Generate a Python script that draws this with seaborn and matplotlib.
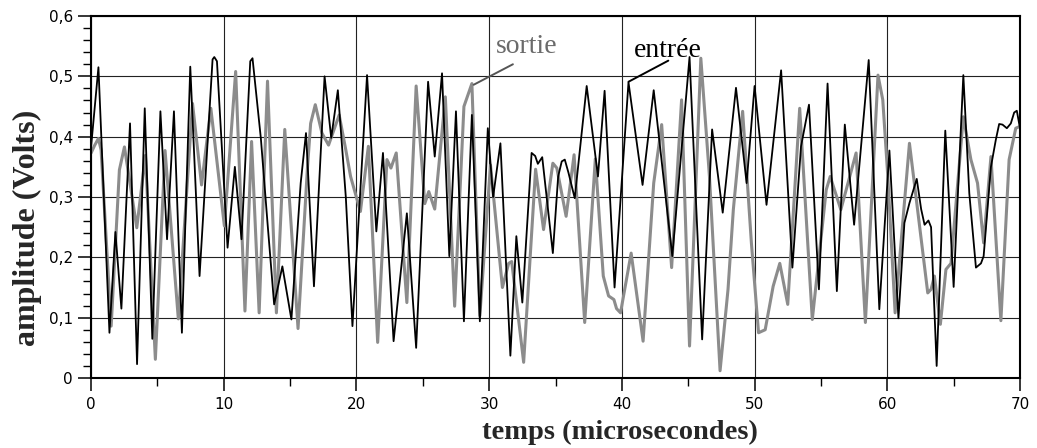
import numpy as np
import pandas as pd
import matplotlib
matplotlib.use("Agg")
import matplotlib.pyplot as plt
from matplotlib.ticker import MultipleLocator, FuncFormatter
import seaborn as sns

# ---- data ----
entree_t = [0.01, 0.56, 1.39, 1.84, 2.29, 2.94, 3.47, 4.05, 4.62, 5.23, 5.73, 6.25, 6.85,
            7.48, 8.18, 9.16, 9.29, 9.49, 10.29, 10.84, 11.34, 12.0, 12.17, 12.8, 13.3,
            13.8, 14.42, 15.1, 15.8, 16.2, 16.8, 17.6, 18.1, 18.6, 19.2, 19.7, 20.8, 21.5,
            22.0, 22.8, 23.8, 24.5, 25.4, 25.9, 26.45, 27.0, 27.5, 28.1, 28.7, 29.3, 29.9,
            30.3, 30.85, 31.6, 32.05, 32.5, 33.2, 33.47, 33.67, 34.0, 34.8, 35.2, 35.47,
            35.7, 35.98, 36.45, 37.35, 38.2, 38.7, 39.45, 40.5, 41.56, 42.4, 43.8, 45.1,
            46.05, 46.8, 47.6, 48.6, 49.4, 50.0, 50.9, 52.0, 52.85, 53.5, 54.1, 54.85,
            55.5, 56.2, 56.8, 57.5, 58.6, 59.4, 60.16, 60.84, 61.29, 61.67, 62.22, 62.55,
            62.81, 63.1, 63.3, 63.72, 64.37, 65.0, 65.73, 66.18, 66.68, 67.06, 67.26,
            67.81, 68.18, 68.43, 68.68, 69.01, 69.31, 69.56, 69.76, 70.0]
entree_v = [0.384, 0.515, 0.075, 0.242, 0.115, 0.422, 0.023, 0.447, 0.065, 0.442, 0.23,
            0.442, 0.075, 0.516, 0.169, 0.528, 0.532, 0.525, 0.216, 0.35, 0.23, 0.525,
            0.53, 0.397, 0.257, 0.122, 0.185, 0.097, 0.323, 0.406, 0.152, 0.50, 0.398,
            0.477, 0.30, 0.086, 0.502, 0.243, 0.373, 0.061, 0.273, 0.05, 0.491, 0.367,
            0.505, 0.202, 0.442, 0.094, 0.436, 0.094, 0.414, 0.30, 0.389, 0.037, 0.235,
            0.125, 0.373, 0.368, 0.355, 0.366, 0.207, 0.334, 0.359, 0.362, 0.34, 0.298,
            0.484, 0.334, 0.476, 0.15, 0.49, 0.32, 0.477, 0.202, 0.532, 0.064, 0.412,
            0.274, 0.481, 0.323, 0.484, 0.287, 0.51, 0.183, 0.384, 0.453, 0.147, 0.488,
            0.144, 0.42, 0.254, 0.527, 0.114, 0.377, 0.099, 0.257, 0.29, 0.33, 0.28,
            0.254, 0.261, 0.25, 0.02, 0.41, 0.151, 0.502, 0.306, 0.183, 0.19, 0.202,
            0.35, 0.395, 0.421, 0.42, 0.414, 0.422, 0.44, 0.443, 0.414]

sortie_t = [0.01, 0.26, 0.56, 0.76, 1.52, 2.14, 2.52, 3.45, 4.1, 4.85, 5.58, 6.58, 7.65,
            8.33, 9.03, 10.05, 10.9, 11.6, 12.1, 12.67, 13.3, 13.97, 14.6, 15.6, 16.3,
            16.55, 16.9, 17.4, 17.9, 18.7, 19.2, 19.56, 20.3, 20.9, 21.6, 22.3, 22.6,
            23.0, 23.8, 24.5, 25.15, 25.45, 25.9, 26.7, 27.4, 28.1, 28.7, 29.3, 30.1,
            31.0, 31.47, 31.7, 32.6, 33.5, 34.1, 34.8, 35.1, 35.8, 36.4, 37.2, 38.0,
            38.6, 39.0, 39.4, 39.6, 39.9, 40.7, 41.6, 42.4, 43.0, 43.75, 44.5, 45.1,
            45.95, 46.6, 47.4, 48.0, 48.4, 49.1, 49.76, 50.3, 50.8, 51.4, 51.9, 52.5,
            53.4, 54.35, 55.4, 55.7, 56.5, 57.65, 58.35, 59.3, 59.66, 60.04, 60.59,
            61.67, 63.05, 63.3, 63.55, 64.0, 64.42, 64.8, 65.73, 66.3, 66.8, 67.26,
            67.81, 68.56, 69.18, 69.68, 70.0]
sortie_v = [0.373, 0.385, 0.397, 0.378, 0.086, 0.345, 0.383, 0.249, 0.369, 0.031, 0.377,
            0.098, 0.455, 0.32, 0.447, 0.252, 0.508, 0.111, 0.392, 0.108, 0.492, 0.108,
            0.412, 0.082, 0.345, 0.422, 0.453, 0.406, 0.386, 0.436, 0.378, 0.334, 0.276,
            0.384, 0.059, 0.362, 0.348, 0.373, 0.125, 0.484, 0.289, 0.309, 0.28, 0.466,
            0.119, 0.45, 0.488, 0.103, 0.353, 0.15, 0.19, 0.193, 0.026, 0.346, 0.246,
            0.356, 0.348, 0.268, 0.37, 0.092, 0.363, 0.169, 0.136, 0.13, 0.115, 0.108,
            0.207, 0.061, 0.323, 0.42, 0.183, 0.461, 0.053, 0.53, 0.334, 0.012, 0.147,
            0.279, 0.442, 0.224, 0.075, 0.08, 0.152, 0.19, 0.122, 0.447, 0.097, 0.312,
            0.334, 0.279, 0.373, 0.092, 0.502, 0.461, 0.334, 0.108, 0.389, 0.141, 0.147,
            0.169, 0.089, 0.18, 0.19, 0.433, 0.362, 0.323, 0.224, 0.367, 0.095, 0.362,
            0.414, 0.417]

x_ticks = [0, 10, 20, 30, 40, 50, 60, 70]
y_ticks = [0, 0.1, 0.2, 0.3, 0.4, 0.5, 0.6]
x_label = "temps (microsecondes)"
y_label = "amplitude (Volts)"
label_sortie = "sortie"
label_entree = "entrée"

df_e = pd.DataFrame({"t": entree_t, "v": entree_v})
df_s = pd.DataFrame({"t": sortie_t, "v": sortie_v})

sns.set_style("white")
plt.rcParams["font.family"] = ["DejaVu Sans"]

fig = plt.figure(figsize=(10.37, 4.48), dpi=100)
ax = fig.add_axes([91 / 1037, 70 / 448, 929 / 1037, 362 / 448])

ax.set_xlim(0, 70)
ax.set_ylim(0, 0.6)
ax.set_xticks(x_ticks)
ax.set_yticks(y_ticks)
ax.xaxis.set_minor_locator(MultipleLocator(5))
ax.yaxis.set_minor_locator(MultipleLocator(0.02))
ax.yaxis.set_major_formatter(FuncFormatter(lambda v, p: "0" if abs(v) < 1e-9 else f"{v:.1f}".replace(".", ",")))
ax.grid(True, which="major", color="#222222", linewidth=0.8)
ax.set_axisbelow(True)

sns.lineplot(data=df_s, x="t", y="v", ax=ax, color="#8c8c8c", linewidth=2.2,
             estimator=None, sort=False, zorder=3, solid_joinstyle="round")
sns.lineplot(data=df_e, x="t", y="v", ax=ax, color="black", linewidth=1.3,
             estimator=None, sort=False, zorder=4, solid_joinstyle="round")

for s in ax.spines.values():
    s.set_visible(True)
    s.set_color("black")
    s.set_linewidth(1.5)
    s.set_zorder(5)

ax.tick_params(axis="both", which="major", direction="out", length=9.4, width=1.1,
               color="black", labelsize=11, labelcolor="black")
ax.tick_params(axis="x", which="major", pad=4.3)
ax.tick_params(axis="y", which="major", pad=3.6)
ax.tick_params(axis="both", which="minor", direction="out", length=5.5, width=1.0, color="black")
ax.tick_params(axis="y", which="both", left=True)
ax.tick_params(axis="x", which="both", bottom=True)

ax.set_xlabel("")
ax.set_ylabel("")
fig.text(620 / 1037, 1 - 432 / 448, x_label, ha="center", va="center",
         fontsize=20.5, fontweight="bold", family="Liberation Serif")
fig.text(27 / 1037, 1 - 228 / 448, y_label, ha="center", va="center", rotation=90,
         fontsize=23, fontweight="bold", family="Liberation Serif")

# callouts
ax.plot([28.83, 31.79], [0.486, 0.520], color="#555555", lw=1.4, zorder=6)
ax.text(32.8, 0.539, label_sortie, ha="center", va="baseline", fontsize=20,
        family="Liberation Serif", color="#6a6a6a", zorder=6)
ax.plot([40.5, 43.5], [0.491, 0.526], color="black", lw=1.4, zorder=6)
ax.text(43.46, 0.532, label_entree, ha="center", va="baseline", fontsize=20,
        family="Liberation Serif", color="black", zorder=6)

fig.savefig("out.png", dpi=100)
